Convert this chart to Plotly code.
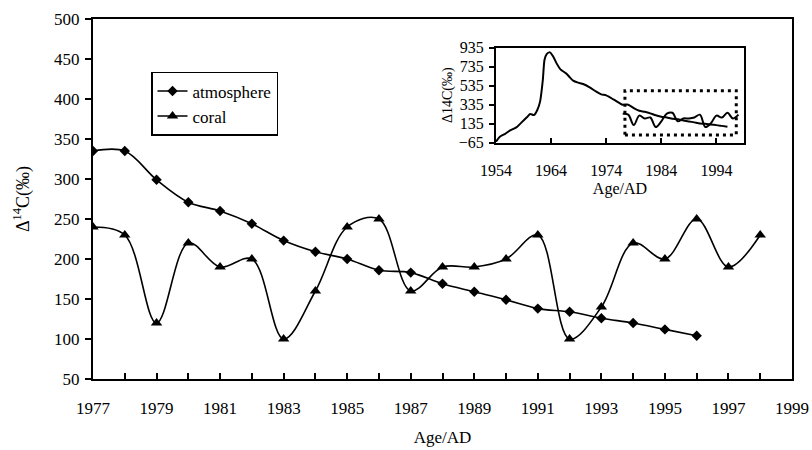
import plotly.graph_objects as go

# ---- main chart data ----
atm_years = [1977, 1978, 1979, 1980, 1981, 1982, 1983, 1984, 1985, 1986,
             1987, 1988, 1989, 1990, 1991, 1992, 1993, 1994, 1995, 1996]
atm_values = [335, 335, 299, 271, 260, 244, 223, 209, 200, 186,
              183, 169, 159, 149, 138, 134, 126, 120, 112, 104]

coral_years = [1977, 1978, 1979, 1980, 1981, 1982, 1983, 1984, 1985, 1986, 1987,
               1988, 1989, 1990, 1991, 1992, 1993, 1994, 1995, 1996, 1997, 1998]
coral_values = [240, 230, 120, 220, 190, 200, 100, 160, 240, 250, 160,
                190, 190, 200, 230, 100, 140, 220, 200, 250, 190, 230]

# ---- inset data (bomb-peak atmospheric record before 1977) ----
early_years = [1954, 1954.7, 1955.6, 1956.5, 1957.7, 1958.6, 1959.6, 1960.2, 1960.9,
               1961.5, 1962, 1962.5, 1962.8, 1963.2, 1963.8, 1964.4, 1965, 1965.7,
               1966.7, 1967.4, 1968, 1968.9, 1969.8, 1971, 1972.2, 1973.1, 1974,
               1975.3, 1976.5]
early_values = [-54, -2, 26, 61, 96, 146, 202, 237, 226, 279, 367, 595, 805, 868,
                886, 840, 770, 707, 665, 623, 588, 567, 553, 518, 472, 444, 433,
                391, 349]

main_xticks = list(range(1977, 2000))
main_xlabels = [str(y) if (y - 1977) % 2 == 0 else "" for y in main_xticks]
main_yticks = list(range(50, 501, 50))
inset_xticks = [1954, 1964, 1974, 1984, 1994]
inset_yticks = [-65, 135, 335, 535, 735, 935]
box_x = [1977.4, 1997.6]
box_y = [16, 482]

FONT = "Liberation Serif, Times New Roman, serif"

fig = go.Figure()

fig.add_trace(go.Scatter(
    x=atm_years, y=atm_values, name="atmosphere", mode="lines+markers",
    line=dict(color="black", width=1.6, shape="spline", smoothing=1),
    marker=dict(symbol="diamond", size=8, color="black"),
))
fig.add_trace(go.Scatter(
    x=coral_years, y=coral_values, name="coral", mode="lines+markers",
    line=dict(color="black", width=1.6, shape="spline", smoothing=1),
    marker=dict(symbol="triangle-up", size=10, color="black"),
))

# inset traces
fig.add_trace(go.Scatter(
    x=early_years + atm_years, y=early_values + atm_values, mode="lines",
    line=dict(color="black", width=2, shape="spline", smoothing=0.6),
    xaxis="x2", yaxis="y2", showlegend=False,
))
fig.add_trace(go.Scatter(
    x=coral_years, y=coral_values, mode="lines",
    line=dict(color="black", width=2, shape="spline", smoothing=1),
    xaxis="x2", yaxis="y2", showlegend=False,
))

fig.add_shape(type="rect", xref="x2", yref="y2",
              x0=box_x[0], x1=box_x[1], y0=box_y[0], y1=box_y[1],
              line=dict(color="black", width=3, dash="3px,4px"))

fig.update_layout(
    width=812, height=450,
    margin=dict(l=93, r=20, t=19, b=71, autoexpand=False),
    paper_bgcolor="white", plot_bgcolor="white",
    font=dict(family=FONT, color="black", size=17),
    showlegend=True,
    legend=dict(x=0.083, y=0.853, xanchor="left", yanchor="top",
                bordercolor="black", borderwidth=1.5, bgcolor="white",
                font=dict(size=17, family=FONT), tracegroupgap=0),
    xaxis=dict(
        range=[1977, 1999], tickmode="array", tickvals=main_xticks, ticktext=main_xlabels,
        ticks="inside", ticklen=6, tickwidth=1.5, tickcolor="black",
        showline=True, linecolor="black", linewidth=2, mirror=True,
        showgrid=False, zeroline=False, ticklabelstandoff=13, automargin=False,
        tickfont=dict(size=17, family=FONT),
        title=dict(text="Age/AD", font=dict(size=17, family=FONT), standoff=14),
    ),
    yaxis=dict(
        range=[50, 500], tickmode="array", tickvals=main_yticks,
        ticks="outside", ticklen=6, tickwidth=1.5, tickcolor="black",
        showline=True, linecolor="black", linewidth=2, mirror=True,
        showgrid=False, zeroline=False, ticklabelstandoff=2, automargin=False,
        tickfont=dict(size=17, family=FONT),
        title=dict(text="Δ<sup>14</sup>C(‰)", font=dict(size=18, family=FONT), standoff=20),
    ),
    xaxis2=dict(
        domain=[0.5765, 0.9313], anchor="y2",
        range=[1954, 1999], tickmode="array", tickvals=inset_xticks,
        ticks="inside", ticklen=5, tickwidth=1.5, tickcolor="black",
        showline=True, linecolor="black", linewidth=2, mirror=True,
        showgrid=False, zeroline=False, ticklabelstandoff=12, automargin=False,
        tickfont=dict(size=16, family=FONT),
        title=dict(text="Age/AD", font=dict(size=16, family=FONT), standoff=5),
    ),
    yaxis2=dict(
        domain=[0.6564, 0.9203], anchor="x2",
        range=[-65, 935], tickmode="array", tickvals=inset_yticks,
        ticks="outside", ticklen=5, tickwidth=1.5, tickcolor="black",
        showline=True, linecolor="black", linewidth=2, mirror=True,
        showgrid=False, zeroline=False, ticklabelstandoff=2, automargin=False,
        tickfont=dict(size=16, family=FONT),
        title=dict(text="Δ14C(‰)", font=dict(size=14, family=FONT), standoff=3),
    ),
)

fig.write_html("out.html", config={"displayModeBar": False},
               post_script="document.body.style.margin='0px';document.body.style.padding='0px';")
